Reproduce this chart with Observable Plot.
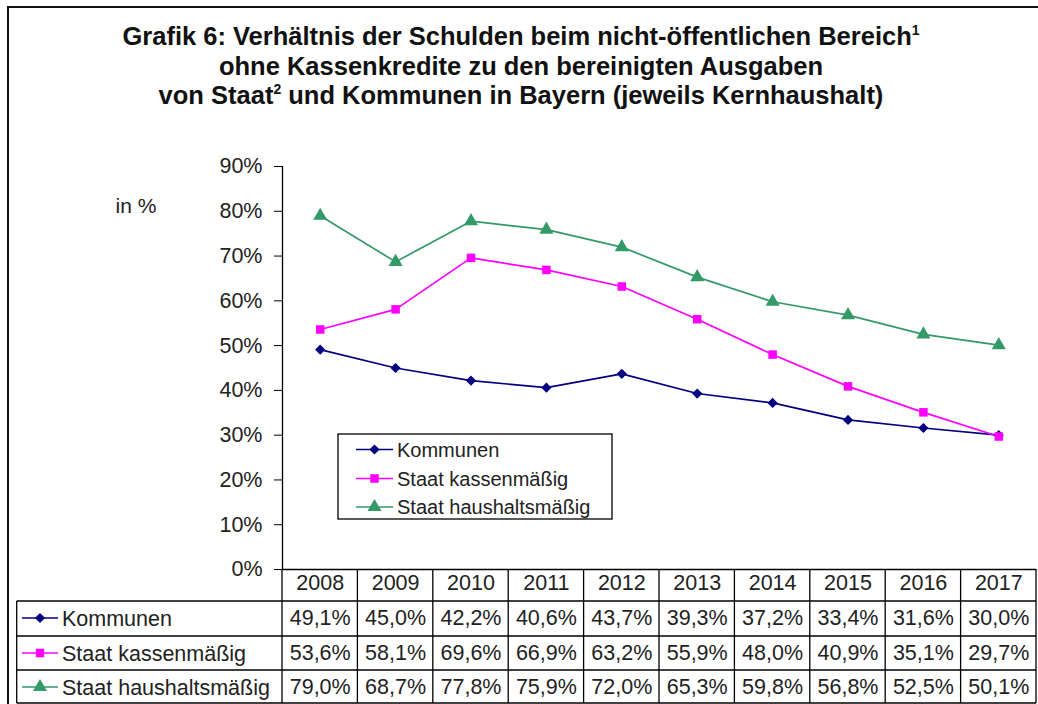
<!DOCTYPE html>
<html><head><meta charset="utf-8">
<script src="https://cdn.jsdelivr.net/npm/d3@7"></script>
<script src="https://cdn.jsdelivr.net/npm/@observablehq/plot@0.6"></script>
<style>
body{margin:0;background:#fff;font-family:Arial,"Liberation Sans",sans-serif;}
#wrap{position:relative;width:1038px;height:704px;overflow:hidden;background:#fff;}
#frame{position:absolute;left:7px;top:6px;width:2000px;height:2000px;border:2.5px solid #111;box-sizing:border-box;}
#title{position:absolute;left:0;top:22px;width:1042px;text-align:center;font-weight:bold;font-size:25.5px;line-height:29.5px;color:#111;white-space:nowrap;}
#title sup{font-size:14px;line-height:0;vertical-align:10px;}
#chart{position:absolute;left:0;top:120px;}
</style></head>
<body>
<div id="wrap">
<div id="frame"></div>
<div id="title">Grafik 6: Verhältnis der Schulden beim nicht-öffentlichen Bereich<sup>1</sup><br>ohne Kassenkredite zu den bereinigten Ausgaben<br>von Staat<sup>2</sup> und Kommunen in Bayern (jeweils Kernhaushalt)</div>
<div id="chart"></div>
</div>
<script>
const years = [2008, 2009, 2010, 2011, 2012, 2013, 2014, 2015, 2016, 2017];
const kommunen = [49.1, 45.0, 42.2, 40.6, 43.7, 39.3, 37.2, 33.4, 31.6, 30.0];
const staatKassenmaessig = [53.6, 58.1, 69.6, 66.9, 63.2, 55.9, 48.0, 40.9, 35.1, 29.7];
const staatHaushaltsmaessig = [79.0, 68.7, 77.8, 75.9, 72.0, 65.3, 59.8, 56.8, 52.5, 50.1];
const seriesNames = ["Kommunen", "Staat kassenmäßig", "Staat haushaltsmäßig"];
const yTicks = [0, 10, 20, 30, 40, 50, 60, 70, 80, 90];

const seriesValues = [kommunen, staatKassenmaessig, staatHaushaltsmaessig];
const colors = ["#000080", "#FF00FF", "#339966"];
const symbols = ["diamond2", "square", "triangle"];
const d3symbols = [d3.symbolDiamond2, d3.symbolSquare, d3.symbolTriangle];
const radii = [4.6, 4.8, 5.2];

const data = seriesNames.flatMap((s, i) => years.map((y, j) => ({series: s, year: y, value: seriesValues[i][j]})));
const fmt = v => v.toFixed(1).replace(".", ",") + "%";

const W = 1038, H = 584, mTop = 46, mBottom = 135, mLeft = 282, mRight = 2;
const FONT = "Arial, 'Liberation Sans', sans-serif";
const FS = 21.5;
const rowDy = [49, 84, 118];

const marks = [
  Plot.ruleX([2007.5], {stroke: "#000", strokeWidth: 1.3}),
  Plot.ruleY([0], {stroke: "#000", strokeWidth: 1.3}),
  Plot.axisY({ticks: yTicks, tickFormat: d => d + "%", tickSize: 8, tickPadding: 12, fontSize: FS, fill: "#222", stroke: "#000", label: null}),
  Plot.line(data, {x: "year", y: "value", z: "series", stroke: "series", strokeWidth: 1.7}),
];
seriesNames.forEach((s, i) => {
  marks.push(Plot.dot(data.filter(d => d.series === s), {x: "year", y: "value", symbol: "series", fill: "series", r: radii[i], stroke: "none"}));
});
marks.push(Plot.text(years, {x: d => d, text: d => String(d), frameAnchor: "bottom", dy: 14, lineAnchor: "middle", fontSize: FS, fill: "#222"}));
seriesValues.forEach((vals, i) => {
  marks.push(Plot.text(years, {x: d => d, text: (d, j) => fmt(vals[j]), frameAnchor: "bottom", dy: rowDy[i], lineAnchor: "middle", fontSize: FS, fill: "#222"}));
});

const chart = Plot.plot({
  width: W, height: H,
  marginTop: mTop, marginBottom: mBottom, marginLeft: mLeft, marginRight: mRight,
  style: {fontFamily: FONT, fontSize: FS + "px", background: "transparent", overflow: "visible"},
  x: {type: "linear", domain: [2007.5, 2017.5], axis: null},
  y: {domain: [0, 90], axis: null},
  color: {domain: seriesNames, range: colors},
  symbol: {domain: seriesNames, range: symbols},
  marks
});
document.getElementById("chart").appendChild(chart);

// table grid and labels, positioned with the plot's own x scale
const xs = chart.scale("x");
const svg = d3.select(chart);
const g = svg.append("g").attr("stroke", "#000").attr("stroke-width", 1.3).attr("fill", "none");
const yb = H - mBottom;
const tableTop = yb, headerBottom = yb + 32, tableBottom = yb + 134;
const xLeftCol = 16.7, xRight = xs.apply(2017.5);
[2008.5, 2009.5, 2010.5, 2011.5, 2012.5, 2013.5, 2014.5, 2015.5, 2016.5, 2017.5].forEach(b => {
  const x = xs.apply(b);
  g.append("line").attr("x1", x).attr("x2", x).attr("y1", tableTop).attr("y2", tableBottom);
});
g.append("line").attr("x1", xs.apply(2007.5)).attr("x2", xs.apply(2007.5)).attr("y1", tableTop).attr("y2", tableBottom);
[headerBottom, yb + 67, yb + 101, tableBottom].forEach(y => {
  g.append("line").attr("x1", xLeftCol).attr("x2", xRight).attr("y1", y).attr("y2", y);
});
g.append("line").attr("x1", xLeftCol).attr("x2", xLeftCol).attr("y1", headerBottom).attr("y2", tableBottom);

function legendEntry(parent, i, x0, x1, cy, tx, fs) {
  parent.append("line").attr("x1", x0).attr("x2", x1).attr("y1", cy).attr("y2", cy)
    .attr("stroke", colors[i]).attr("stroke-width", 1.7);
  parent.append("path").attr("d", d3.symbol(d3symbols[i], Math.PI * radii[i] * radii[i])())
    .attr("transform", `translate(${(x0 + x1) / 2},${cy})`).attr("fill", colors[i]);
  parent.append("text").attr("x", tx).attr("y", cy).attr("dy", "0.35em").attr("text-anchor", "start")
    .attr("font-size", fs).attr("font-family", FONT).attr("fill", "#222").text(seriesNames[i]);
}
const tl = svg.append("g");
seriesNames.forEach((s, i) => legendEntry(tl, i, 22, 58, yb + rowDy[i], 62, FS));

// in-plot legend
const lg = svg.append("g");
lg.append("rect").attr("x", 338).attr("y", 314).attr("width", 274).attr("height", 85)
  .attr("fill", "#fff").attr("stroke", "#000").attr("stroke-width", 1.3);
[329.5, 358.5, 387].forEach((cy, i) => legendEntry(lg, i, 356, 393, cy, 397, 20));

// "in %" label
svg.append("text").attr("x", 136).attr("y", 86).attr("dy", "0.35em").attr("text-anchor", "middle")
  .attr("font-size", 21).attr("font-family", FONT).attr("fill", "#222").text("in %");
</script>
</body></html>
